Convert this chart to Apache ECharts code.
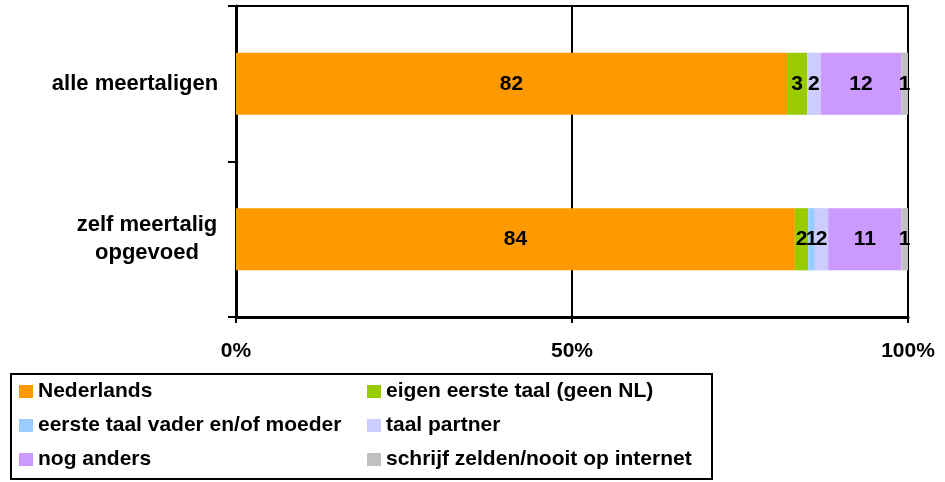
<!DOCTYPE html>
<html><head><meta charset="utf-8">
<script src="https://cdn.jsdelivr.net/npm/echarts@6/dist/echarts.min.js"></script>
<style>html,body{margin:0;padding:0;background:#fff}#c{width:945px;height:482px}</style>
</head><body><div id="c"></div>
<script>
const categories = ['alle meertaligen', 'zelf meertalig\nopgevoed'];
const seriesNames = ['Nederlands', 'eigen eerste taal (geen NL)', 'eerste taal vader en/of moeder', 'taal partner', 'nog anders', 'schrijf zelden/nooit op internet'];
const nederlands = [82, 84];
const eigenEersteTaal = [3, 2];
const eersteTaalOuders = [0, 1];
const taalPartner = [2, 2];
const nogAnders = [12, 11];
const zeldenNooit = [1, 1];
const tickLabels = ['0%', '50%', '100%'];
const colors = ['#FF9900', '#99CC00', '#99CCFF', '#CCCCFF', '#CC99FF', '#C0C0C0'];

const raw = [nederlands, eigenEersteTaal, eersteTaalOuders, taalPartner, nogAnders, zeldenNooit];
const totals = categories.map((_, i) => raw.reduce((s, arr) => s + arr[i], 0));

const font = 'Liberation Sans, Arial, sans-serif';
const chart = echarts.init(document.getElementById('c'));
chart.setOption({
  animation: false,
  grid: { left: 236, right: 37, top: 6, bottom: 165, containLabel: false, outerBoundsMode: 'none',
          show: true, borderColor: '#000', borderWidth: 2 },
  xAxis: {
    type: 'value', min: 0, max: 100, interval: 50,
    axisLine: { show: true, lineStyle: { color: '#000', width: 3 } },
    axisTick: { show: true, length: 6, lineStyle: { color: '#000', width: 2 } },
    splitLine: { show: true, lineStyle: { color: '#000', width: 2 } },
    axisLabel: {
      margin: 24, color: '#000', fontFamily: font, fontWeight: 'bold', fontSize: 21,
      formatter: v => tickLabels[Math.round(v / 50)]
    }
  },
  yAxis: {
    type: 'category', inverse: true,
    data: categories.map((c, i) => i === 0 ? { value: c, textStyle: { align: 'center', padding: [0, 24, 0, 0] } } : c),
    axisLine: { show: true, lineStyle: { color: '#000', width: 3 } },
    axisTick: { show: true, length: 8, alignWithLabel: false, lineStyle: { color: '#000', width: 2 } },
    axisLabel: {
      margin: 89, align: 'center', color: '#000', fontFamily: font, fontWeight: 'bold', fontSize: 22, lineHeight: 28
    }
  },
  legend: {
    left: 11, top: 374, width: 720, orient: 'horizontal',
    itemWidth: 14, itemHeight: 13, itemGap: 13,
    borderColor: '#000', borderWidth: 2, borderRadius: 0,
    padding: [7, 10, 9, 8],
    icon: 'rect',
    textStyle: { color: '#000', fontFamily: font, fontWeight: 'bold', fontSize: 21, lineHeight: 21, width: 316 },
    data: seriesNames
  },
  series: raw.map((arr, k) => ({
    name: seriesNames[k], type: 'bar', stack: 'total', barWidth: '40%',
    itemStyle: { color: colors[k] },
    label: {
      show: true, position: 'inside', color: '#000', fontFamily: font, fontWeight: 'bold', fontSize: 21,
      formatter: p => arr[p.dataIndex] > 0 ? String(arr[p.dataIndex]) : ''
    },
    data: arr.map((v, i) => v / totals[i] * 100)
  }))
});
</script></body></html>
